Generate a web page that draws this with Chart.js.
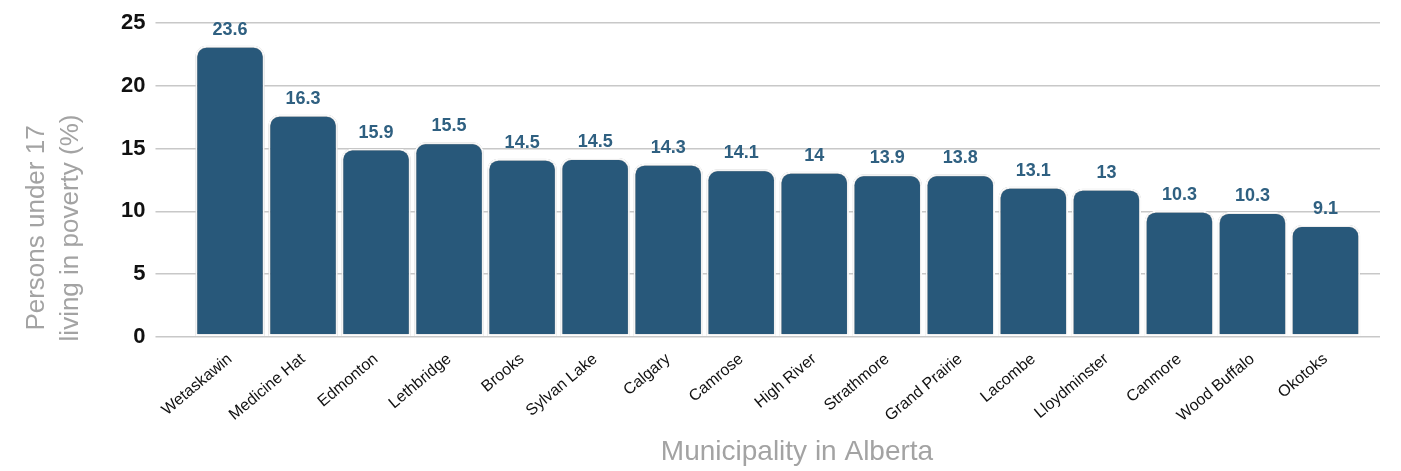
<!DOCTYPE html>
<html>
<head>
<meta charset="utf-8">
<script src="https://cdn.jsdelivr.net/npm/chart.js@4.4.1/dist/chart.umd.min.js"></script>
<style>
  html, body { margin: 0; padding: 0; background: #fff; }
  #wrap { width: 1401px; height: 471px; }
</style>
</head>
<body>
<div id="wrap"><canvas id="chart" width="1401" height="471"></canvas></div>
<script>
// municipalities, bar heights as drawn, and the labels printed above the bars
const municipalities = [
  'Wetaskawin', 'Medicine Hat', 'Edmonton', 'Lethbridge', 'Brooks', 'Sylvan Lake',
  'Calgary', 'Camrose', 'High River', 'Strathmore', 'Grand Prairie', 'Lacombe',
  'Lloydminster', 'Canmore', 'Wood Buffalo', 'Okotoks'
];
const barValues = [23.2, 17.7, 15.0, 15.5, 14.2, 14.25, 13.8, 13.35, 13.15, 12.95, 12.95, 11.95, 11.8, 10.05, 9.95, 8.9];
const valueLabels = ['23.6', '16.3', '15.9', '15.5', '14.5', '14.5', '14.3', '14.1', '14', '13.9', '13.8', '13.1', '13', '10.3', '10.3', '9.1'];
const yTicks = [0, 5, 10, 15, 20, 25];

const FONT = "'Liberation Sans', Arial, Helvetica, sans-serif";
const BAR = '#28587a';
const GRID = '#c8c8c8';
const TITLE = '#a3a3a3';

// texto encima de cada barra
const valueLabelPlugin = {
  id: 'valueLabels',
  afterDatasetsDraw(chart) {
    const ctx = chart.ctx;
    const meta = chart.getDatasetMeta(0);
    ctx.save();
    ctx.font = `bold 18px ${FONT}`;
    ctx.fillStyle = '#2f6081';
    ctx.textAlign = 'center';
    ctx.textBaseline = 'middle';
    meta.data.forEach((bar, i) => {
      ctx.fillText(valueLabels[i], bar.x, bar.y - 16);
    });
    ctx.restore();
  }
};

// titulos de los ejes
const axisTitlePlugin = {
  id: 'axisTitles',
  afterDraw(chart) {
    const ctx = chart.ctx;
    ctx.save();
    ctx.fillStyle = TITLE;
    ctx.textAlign = 'center';
    ctx.textBaseline = 'middle';
    ctx.font = `28px ${FONT}`;
    ctx.fillText('Municipality in Alberta', 797, 452);
    ctx.font = `26px ${FONT}`;
    ctx.translate(0, 228);
    ctx.rotate(-Math.PI / 2);
    ctx.fillText('Persons under 17', 0, 37);
    ctx.fillText('living in poverty (%)', 0, 71);
    ctx.restore();
  }
};

// contorno gris fino alrededor de las barras
const barOutlinePlugin = {
  id: 'barOutline',
  beforeDatasetsDraw(chart) {
    const ctx = chart.ctx;
    ctx.save();
    ctx.shadowColor = 'rgba(0,0,0,0.35)';
    ctx.shadowBlur = 1.5;
  },
  afterDatasetsDraw(chart) {
    chart.ctx.restore();
  }
};

new Chart(document.getElementById('chart'), {
  type: 'bar',
  data: {
    labels: municipalities,
    datasets: [{
      data: barValues,
      backgroundColor: BAR,
      borderColor: '#ffffff',
      borderWidth: 2,
      borderSkipped: false,
      borderRadius: { topLeft: 11, topRight: 11, bottomLeft: 0, bottomRight: 0 },
      barPercentage: 0.95,
      categoryPercentage: 1
    }]
  },
  options: {
    responsive: false,
    animation: false,
    devicePixelRatio: 1,
    layout: { padding: { left: 0, right: 21, top: 20, bottom: 0 } },
    plugins: {
      legend: { display: false },
      tooltip: { enabled: false }
    },
    scales: {
      x: {
        grid: { display: false },
        border: { display: false },
        ticks: {
          color: '#111',
          font: { family: FONT, size: 16 },
          minRotation: 40,
          maxRotation: 40,
          padding: 5
        },
        afterFit(scale) { scale.height = 134.3; }
      },
      y: {
        min: 0,
        max: 25,
        afterBuildTicks(scale) { scale.ticks = yTicks.map(v => ({ value: v })); },
        grid: { color: GRID, lineWidth: 1.5, tickLength: 38 },
        border: { display: false },
        ticks: {
          color: '#111',
          font: { family: FONT, size: 22, weight: 'bold' },
          padding: 10
        },
        afterFit(scale) { scale.width = 193.5; }
      },
      y2: {
        position: 'right',
        min: 0,
        max: 25,
        afterBuildTicks(scale) { scale.ticks = yTicks.map(v => ({ value: v })); },
        grid: { color: GRID, lineWidth: 1.5, tickLength: 18, drawOnChartArea: false },
        border: { display: false },
        ticks: { display: false }
      }
    }
  },
  plugins: [barOutlinePlugin, valueLabelPlugin, axisTitlePlugin]
});
</script>
</body>
</html>
